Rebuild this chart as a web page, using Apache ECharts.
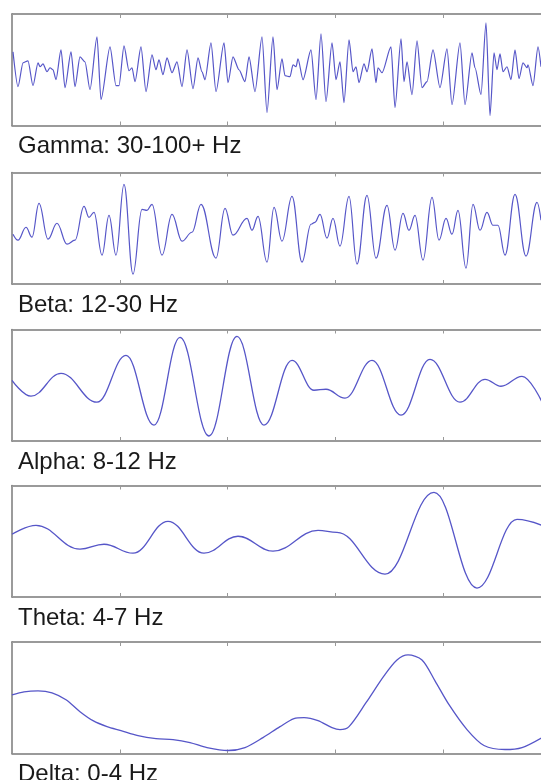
<!DOCTYPE html>
<html>
<head>
<meta charset="utf-8">
<script src="https://cdn.jsdelivr.net/npm/echarts@6/dist/echarts.min.js"></script>
<style>
html,body{margin:0;padding:0;background:#fff;overflow:hidden;}
#chart{width:541px;height:780px;}
</style>
</head>
<body>
<div id="chart"></div>
<script>
// Band names (labels under each trace)
var bandLabels = ['Gamma: 30-100+ Hz', 'Beta: 12-30 Hz', 'Alpha: 8-12 Hz', 'Theta: 4-7 Hz', 'Delta: 0-4 Hz'];

// Time axis (arbitrary sample units), five equal tick intervals
var timeMin = 0;
var timeMax = 539;
var timeTickStep = 107.8;
// Amplitude axis (arbitrary units)
var ampMin = -56;
var ampMax = 56;

// Signals: [time, amplitude]
var gammaSignal = [[1,18],[6,-17],[11,7],[16,9],[21,-16],[26,7],[28,3],[31,6],[35,-2],[38,2],[41,0],[44,-10],[49,20],[53,-18],[59,18],[63,-17],[68,13],[73,8],[78,-20],[85,33],[89,-30],[98,23],[104,-16],[107,-16],[112,24],[117,-1],[120,2],[123,-12],[129,23],[134,-22],[140,15],[144,0],[147,10],[151,-5],[155,12],[160,-3],[165,8],[170,-17],[175,20],[181,-19],[186,12],[190,-2],[193,-10],[199,27],[204,-22],[212,27],[216,-13],[221,13],[227,0],[233,-12],[237,13],[243,-22],[250,33],[255,-43],[261,33],[265,-20],[270,11],[273,-6],[278,-7],[281,5],[284,3],[286,11],[291,-10],[299,20],[304,-30],[309,36],[314,-32],[320,27],[324,-10],[328,8],[332,-33],[337,30],[341,-2],[344,3],[347,-13],[352,6],[355,-2],[360,21],[364,-13],[366,2],[370,-3],[379,23],[383,-38],[389,31],[392,-12],[395,8],[400,-25],[405,29],[410,-18],[415,-12],[421,20],[428,-18],[435,21],[440,-35],[448,27],[453,-35],[460,17],[463,2],[469,-25],[474,47],[478,-46],[482,17],[485,0],[488,16],[491,-2],[495,3],[499,-10],[503,20],[507,-9],[511,7],[515,2],[516,5],[521,-16],[526,23],[529,3]];

var betaSignal = [[1,-6],[6,-12],[14,1],[20,-9],[27,25],[36,-11],[45,5],[55,-16],[63,-12],[72,22],[77,11],[82,16],[90,-27],[97,13],[104,-27],[112,44],[121,-46],[130,19],[135,18],[140,24],[150,-27],[160,14],[170,-13],[180,-4],[189,24],[204,-30],[213,20],[221,-7],[235,10],[240,-2],[246,12],[255,-34],[262,21],[270,-13],[280,32],[290,-34],[299,4],[303,6],[308,14],[315,-10],[321,10],[328,-18],[337,32],[345,-36],[355,33],[364,-30],[375,23],[383,-22],[391,15],[397,-2],[403,13],[411,-32],[420,31],[427,-12],[434,10],[440,-6],[446,18],[454,-40],[461,24],[468,-2],[475,16],[481,3],[486,3],[493,-27],[503,34],[514,-28],[525,26],[529,8]];

var alphaSignal = [[0,5],[19,-11],[49,12],[85,-17],[114,30],[142,-40],[168,48],[197,-51],[225,49],[252,-40],[280,25],[302,-5],[314,-4],[333,-13],[360,25],[389,-30],[418,26],[448,-17],[473,6],[489,-1],[510,9],[530,-17]];

var thetaSignal = [[0,7],[24,16],[68,-8],[92,-3],[121,-12],[156,20],[192,-12],[226,5],[261,-10],[306,11],[325,9],[373,-33],[422,49],[465,-47],[505,22],[530,16]];

var deltaSignal = [[0,3],[12,6],[26,7],[40,5],[54,-2],[68,-14],[81,-23],[95,-29],[109,-33],[126,-38],[144,-41],[161,-42],[178,-45],[195,-50],[216,-53],[233,-50],[251,-40],[268,-29],[282,-21],[292,-20],[306,-23],[320,-30],[328,-32],[337,-29],[354,-5],[372,22],[385,38],[396,43],[410,38],[423,17],[437,-7],[455,-32],[472,-48],[493,-52],[510,-50],[530,-40]];

var signals = [gammaSignal, betaSignal, alphaSignal, thetaSignal, deltaSignal];

// Layout
var panelTops = [14, 172.5, 329.5, 485.5, 642];
var panelHeight = 111.5;
var lineColor = '#5656c8';
var frameColor = '#7a7a7a';

var grids = [], xAxes = [], yAxes = [], series = [], titles = [];
for (var i = 0; i < 5; i++) {
  grids.push({left: 12, top: panelTops[i], width: 539, height: panelHeight, containLabel: false, outerBoundsMode: 'none'});
  var xCommon = {
    type: 'value', gridIndex: i, min: timeMin, max: timeMax, interval: timeTickStep,
    axisLine: {show: true, onZero: false, lineStyle: {color: frameColor, width: 1.5}},
    axisTick: {show: true, inside: true, length: 4, lineStyle: {color: '#999', width: 1}},
    axisLabel: {show: false}, splitLine: {show: false}
  };
  xAxes.push(Object.assign({}, xCommon, {position: 'bottom'}));
  xAxes.push(Object.assign({}, xCommon, {position: 'top'}));
  var yCommon = {
    type: 'value', gridIndex: i, min: ampMin, max: ampMax,
    axisLine: {show: true, onZero: false, lineStyle: {color: frameColor, width: 1.5}},
    axisTick: {show: false}, axisLabel: {show: false}, splitLine: {show: false}
  };
  yAxes.push(Object.assign({}, yCommon, {position: 'left'}));
  yAxes.push(Object.assign({}, yCommon, {position: 'right'}));
  var smoothCfg = (i === 0) ? 0.25 : (i === 4 ? 0.3 : 0.4);
  series.push({
    type: 'line', xAxisIndex: 2 * i, yAxisIndex: 2 * i,
    data: signals[i], showSymbol: false, symbol: 'none',
    smooth: smoothCfg, smoothMonotone: (i === 4) ? null : 'x',
    lineStyle: {color: lineColor, width: i <= 1 ? 1.2 : 1.3},
    animation: false, silent: true
  });
  titles.push({
    text: bandLabels[i], left: 18, top: panelTops[i] + panelHeight + 9, padding: 0,
    textStyle: {fontFamily: 'Liberation Sans, Arial, sans-serif', fontSize: 24, fontWeight: 'normal', color: '#1a1a1a'}
  });
}

var chart = echarts.init(document.getElementById('chart'), null, {renderer: 'canvas'});
chart.setOption({
  animation: false,
  backgroundColor: '#ffffff',
  title: titles,
  grid: grids,
  xAxis: xAxes,
  yAxis: yAxes,
  series: series
});
</script>
</body>
</html>
